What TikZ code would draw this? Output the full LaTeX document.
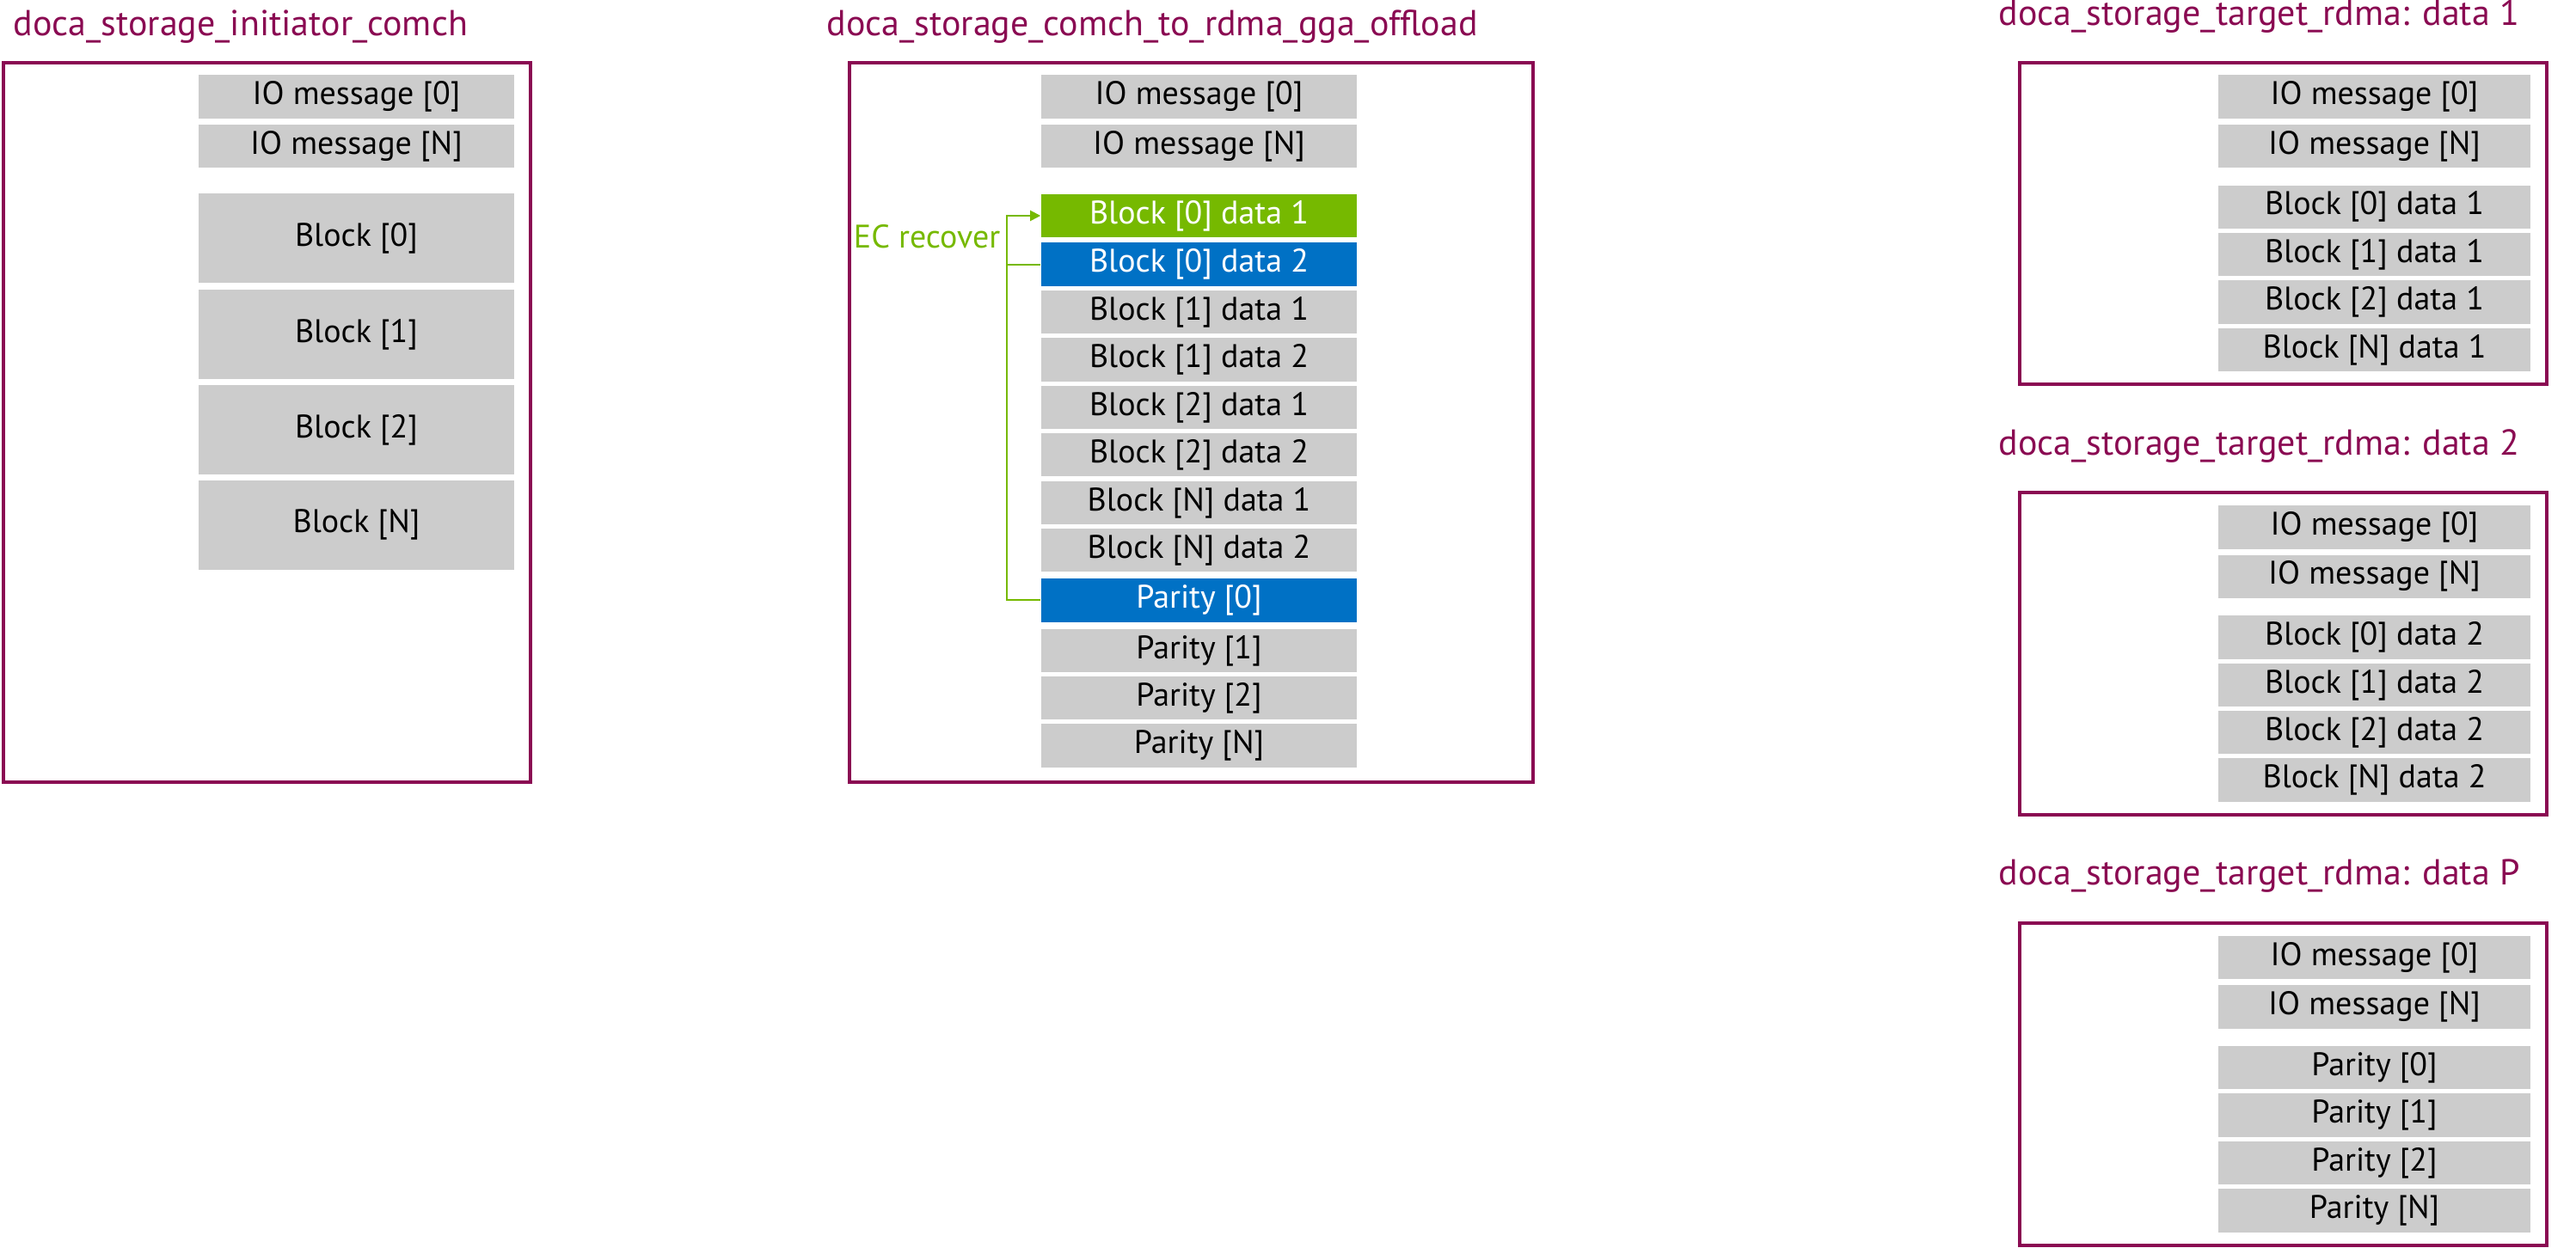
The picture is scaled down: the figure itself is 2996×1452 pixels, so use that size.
\documentclass[tikz,border=0pt]{standalone}
\usepackage{fontspec}
\setmainfont{PT Sans}
\usetikzlibrary{arrows.meta}
\definecolor{maroon}{HTML}{8A0A52}
\definecolor{ngreen}{HTML}{76B900}
\definecolor{nblue}{HTML}{0071C5}
\definecolor{cgray}{HTML}{CCCCCC}
\begin{document}
\begin{tikzpicture}[x=0.25pt,y=-0.25pt,
  frame/.style={draw=maroon,line width=1.2pt},
  title/.style={anchor=base west,text=maroon,font=\fontsize{10.5}{12}\selectfont,inner sep=0},
  cell/.style={fill=cgray,minimum width=91.75pt,minimum height=12.6pt,inner sep=0,font=\fontsize{9.5}{11}\selectfont},
  rcell/.style={cell,minimum width=90.75pt},
  big/.style={minimum height=26pt},
  hgreen/.style={fill=ngreen,text=white},
  hblue/.style={fill=nblue,text=white},
  ec/.style={draw=ngreen,line width=0.5pt}]
\useasboundingbox (0,0) rectangle (2996,1452);
% left
\node[title] (t1) at (15,42) {doca\_storage\_initiator\_comch};
\draw[frame] (4,73) rectangle (617,910);
\node[cell] (l1) at (414.5,112.7) {IO message [0]};
\node[cell] (l2) at (414.5,170) {IO message [N]};
\node[cell,big] (l3) at (414.5,277) {Block [0]};
\node[cell,big] (l4) at (414.5,389) {Block [1]};
\node[cell,big] (l5) at (414.5,500) {Block [2]};
\node[cell,big] (l6) at (414.5,610.6) {Block [N]};
% middle
\node[title] (t2) at (961,42) {doca\_storage\_comch\_to\_rdma\_gga\_offload};
\draw[frame] (988,73) rectangle (1783,910);
\node[cell] (m1) at (1394.5,112.7) {IO message [0]};
\node[cell] (m2) at (1394.5,170) {IO message [N]};
\node[cell,hgreen] (m3) at (1394.5,251) {Block [0] data 1};
\node[cell,hblue] (m4) at (1394.5,307.7) {Block [0] data 2};
\node[cell] (m5) at (1394.5,363) {Block [1] data 1};
\node[cell] (m6) at (1394.5,418.5) {Block [1] data 2};
\node[cell] (m7) at (1394.5,474) {Block [2] data 1};
\node[cell] (m8) at (1394.5,529) {Block [2] data 2};
\node[cell] (m9) at (1394.5,585) {Block [N] data 1};
\node[cell] (m10) at (1394.5,640) {Block [N] data 2};
\node[cell,hblue] (m11) at (1394.5,698.5) {Parity [0]};
\node[cell] (m12) at (1394.5,757) {Parity [1]};
\node[cell] (m13) at (1394.5,812) {Parity [2]};
\node[cell] (m14) at (1394.5,867.6) {Parity [N]};
\coordinate (v) at (1171,0);
\draw[ec,-{Triangle[length=3pt,width=3pt]}] (m11.west) -| (v |- m3.west) -- (m3.west);
\draw[ec] (m4.west) -- (v |- m4.west);
\node[anchor=east,text=ngreen,font=\fontsize{9.5}{11}\selectfont,inner sep=0] (ecl) at (1164,275) {EC recover};
% right
\node[title] (t3) at (2324,30) {doca\_storage\_target\_rdma: data 1};
\draw[frame] (2349,73) rectangle (2962,447);
\node[rcell] (a1) at (2761.5,112.7) {IO message [0]};
\node[rcell] (a2) at (2761.5,170) {IO message [N]};
\node[rcell] (a3) at (2761.5,240.8) {Block [0] data 1};
\node[rcell] (a4) at (2761.5,296) {Block [1] data 1};
\node[rcell] (a5) at (2761.5,351.6) {Block [2] data 1};
\node[rcell] (a6) at (2761.5,407) {Block [N] data 1};
\node[title] (t4) at (2324,530) {doca\_storage\_target\_rdma: data 2};
\draw[frame] (2349,573) rectangle (2962,948);
\node[rcell] (b1) at (2761.5,613.4) {IO message [0]};
\node[rcell] (b2) at (2761.5,670.8) {IO message [N]};
\node[rcell] (b3) at (2761.5,741.5) {Block [0] data 2};
\node[rcell] (b4) at (2761.5,797) {Block [1] data 2};
\node[rcell] (b5) at (2761.5,852.3) {Block [2] data 2};
\node[rcell] (b6) at (2761.5,907.7) {Block [N] data 2};
\node[title] (t5) at (2324,1030) {doca\_storage\_target\_rdma: data P};
\draw[frame] (2349,1074) rectangle (2962,1449);
\node[rcell] (c1) at (2761.5,1114) {IO message [0]};
\node[rcell] (c2) at (2761.5,1171.4) {IO message [N]};
\node[rcell] (c3) at (2761.5,1242) {Parity [0]};
\node[rcell] (c4) at (2761.5,1297.6) {Parity [1]};
\node[rcell] (c5) at (2761.5,1353) {Parity [2]};
\node[rcell] (c6) at (2761.5,1408.4) {Parity [N]};
\end{tikzpicture}
\end{document}
